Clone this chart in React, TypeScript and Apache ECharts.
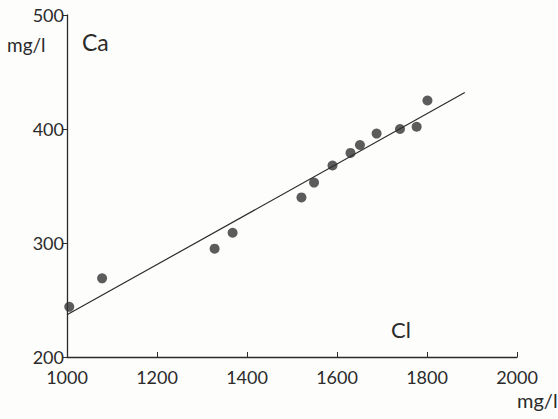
import React, { useEffect, useRef } from "react";
import * as echarts from "echarts";

const clValues = [1005, 1078, 1328, 1368, 1521, 1549, 1590, 1630, 1651, 1688, 1740, 1777, 1801];
const caValues = [244, 269, 295, 309, 340, 353, 368, 379, 386, 396, 400, 402, 425];
const fitCl = [1000, 1884];
const fitCa = [237, 432];
const xTicks = [1000, 1200, 1400, 1600, 1800, 2000];
const yTicks = [200, 300, 400, 500];

const FONT = "Lato, 'DejaVu Sans', sans-serif";
const INK = "#2b2b2b";

export default function App() {
  const ref = useRef<HTMLDivElement>(null);
  useEffect(() => {
    const chart = echarts.init(ref.current!, null, { renderer: "svg" });
    chart.setOption({
      animation: false,
      backgroundColor: "#fdfdfc",
      grid: { left: 67, right: 41, top: 15, bottom: 62 },
      xAxis: {
        type: "value",
        min: xTicks[0],
        max: xTicks[xTicks.length - 1],
        interval: 200,
        axisLine: { show: true, lineStyle: { color: INK, width: 1.3 } },
        axisTick: { show: true, inside: true, length: 5, lineStyle: { color: INK } },
        splitLine: { show: false },
        axisLabel: {
          color: INK,
          fontFamily: FONT,
          fontSize: 18,
          margin: 11,
          formatter: (v: number) => String(v),
        },
      },
      yAxis: {
        type: "value",
        min: yTicks[0],
        max: yTicks[yTicks.length - 1],
        interval: 100,
        axisLine: { show: true, lineStyle: { color: INK, width: 1.3 } },
        axisTick: { show: true, length: 4, lineStyle: { color: INK } },
        splitLine: { show: false },
        axisLabel: {
          color: INK,
          fontFamily: FONT,
          fontSize: 18,
          margin: 3,
          formatter: (v: number) => String(v),
        },
      },
      graphic: [
        { type: "text", left: 7, top: 35, style: { text: "mg/l", fill: INK, font: `19px ${FONT}` } },
        { type: "text", left: 82, top: 30, style: { text: "Ca", fill: INK, font: `23px ${FONT}` } },
        { type: "text", left: 391, top: 318, style: { text: "Cl", fill: INK, font: `22px ${FONT}` } },
        { type: "text", left: 517, top: 390, style: { text: "mg/l", fill: INK, font: `20px ${FONT}` } },
      ],
      series: [
        {
          type: "line",
          data: fitCl.map((x, i) => [x, fitCa[i]]),
          symbol: "none",
          lineStyle: { color: INK, width: 1.2 },
        },
        {
          type: "scatter",
          data: clValues.map((x, i) => [x, caValues[i]]),
          symbolSize: 10,
          itemStyle: { color: "#333333" },
        },
      ],
    });
    return () => chart.dispose();
  }, []);
  return <div ref={ref} style={{ width: 558, height: 419, position: "absolute", left: 0, top: 0 }} />;
}
